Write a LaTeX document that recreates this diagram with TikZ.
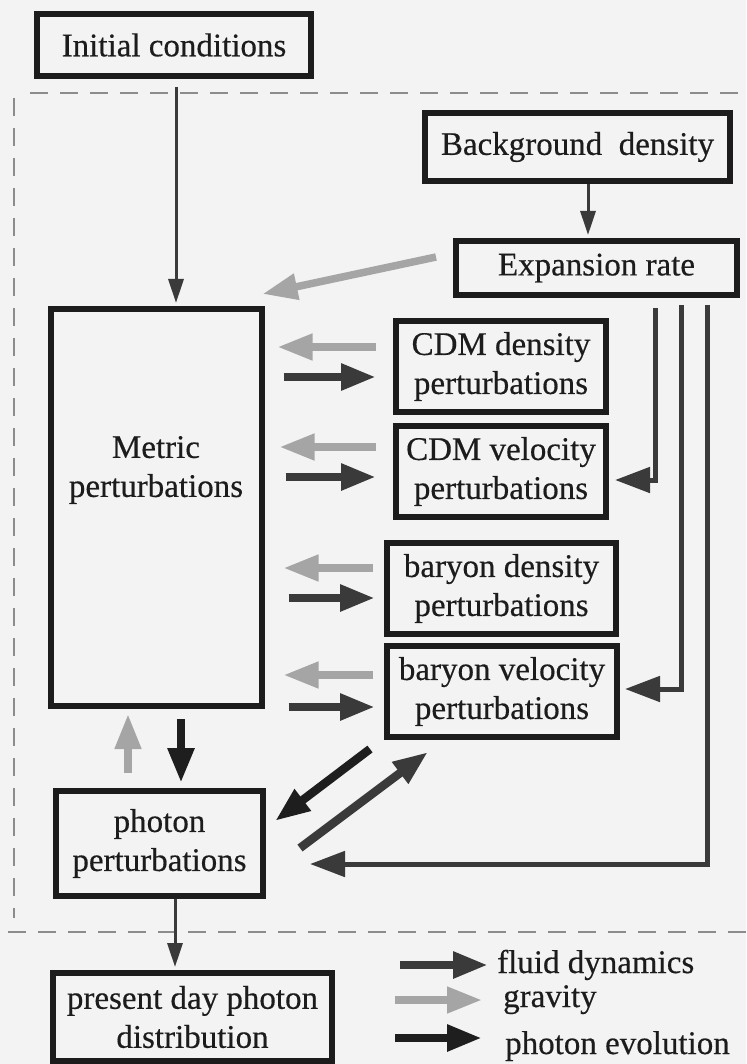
\documentclass[tikz,border=0pt]{standalone}
\usepackage{fontspec}
\setmainfont{Liberation Serif}[FakeBold=0.4]
\usetikzlibrary{arrows.meta,calc}
\definecolor{bgc}{RGB}{243,243,243}
\definecolor{fluidc}{RGB}{58,58,58}
\definecolor{gravc}{RGB}{165,165,165}
\definecolor{photc}{RGB}{30,30,30}
\definecolor{inkc}{RGB}{28,28,28}
\definecolor{dashc}{RGB}{140,140,140}
\begin{document}
\begin{tikzpicture}[x=1pt,y=-1pt,
  txt/.style={font=\fontsize{33}{39}\selectfont,text=inkc,inner sep=0pt},
  box/.style={txt,draw=inkc,line width=6pt,align=center},
  fluidarr/.style={draw=fluidc,line width=8.5pt,-{Triangle[length=35pt,width=25pt]}},
  gravarr/.style={draw=gravc,line width=7.5pt,-{Triangle[length=35pt,width=25pt]}},
  photarr/.style={draw=photc,line width=8.5pt,-{Triangle[length=35pt,width=25pt]}},
  exparr/.style={draw=fluidc,line width=5pt,-{Triangle[length=35pt,width=25pt]}},
  thinarr/.style={draw=fluidc,line width=3pt,-{Triangle[length=24pt,width=15pt]}},
  dashline/.style={draw=dashc,line width=1.5pt,dash pattern=on 18pt off 12pt}]
\useasboundingbox[fill=bgc] (0,0) rectangle (746,1064);

% dashed frame
\draw[dashline] (30,93) -- (746,93);
\draw[dashline] (14,98) -- (14,918);
\draw[dashline] (8,932) -- (746,932);

% boxes
\node[box,minimum width=274pt,minimum height=62pt] (init) at (174,45) {Initial conditions};
\node[box,minimum width=305pt,minimum height=68pt] (bg) at (577.5,147) {Background\ \ density};
\node[box,minimum width=281pt,minimum height=54pt] (exp) at (596.5,268) {Expansion rate};
\node[box,minimum width=211pt,minimum height=397pt] (metric) at (156,507.5) {};
\node[txt,align=center] (metrictxt) at (156,470) {Metric\\perturbations};
\node[box,minimum width=210pt,minimum height=91pt] (cdmd) at (501,366.5) {CDM density\\perturbations};
\node[box,minimum width=210pt,minimum height=91pt] (cdmv) at (501,471.5) {CDM velocity\\perturbations};
\node[box,minimum width=229pt,minimum height=91pt] (bard) at (501.5,588.5) {baryon density\\perturbations};
\node[box,minimum width=230pt,minimum height=91pt] (barv) at (502,691.5) {baryon velocity\\perturbations};
\node[box,minimum width=207pt,minimum height=105pt] (photon) at (159.5,843.5) {photon\\perturbations};
\node[box,minimum width=279pt,minimum height=88pt] (present) at (192.5,1017) {present day photon\\distribution};

% thin arrows
\draw[thinarr] ($(init.south)+(2,8)$) -- ($(init.south |- metric.north)+(2,-3)$);
\draw[thinarr] ($(bg.south)+(10.5,0)$) -- ($(exp.north)+(-8.5,-3)$);
\draw[thinarr] ($(photon.south)+(15.5,0)$) -- ($(present.north)+(-17.5,-3)$);

% gravity from expansion rate
\draw[gravarr] ($(exp.west)+(-17,-11)$) -- ($(metric.north east)+(-2,-12)$);

% metric <-> matter
\draw[gravarr] ($(cdmd.west)+(-17,-19.5)$) -- ($(metric.east |- cdmd.west)+(13,-19.5)$);
\draw[fluidarr] ($(metric.east |- cdmd.west)+(19,10.5)$) -- ($(cdmd.west)+(-17,10.5)$);
\draw[gravarr] ($(cdmv.west)+(-17,-24.5)$) -- ($(metric.east |- cdmv.west)+(15,-24.5)$);
\draw[fluidarr] ($(metric.east |- cdmv.west)+(21,5.5)$) -- ($(cdmv.west)+(-17,5.5)$);
\draw[gravarr] ($(bard.west)+(-11,-20.5)$) -- ($(metric.east |- bard.west)+(19,-20.5)$);
\draw[fluidarr] ($(metric.east |- bard.west)+(24,9.5)$) -- ($(bard.west)+(-9,9.5)$);
\draw[gravarr] ($(barv.west)+(-11,-16.5)$) -- ($(metric.east |- barv.west)+(19,-16.5)$);
\draw[fluidarr] ($(metric.east |- barv.west)+(24,15.5)$) -- ($(barv.west)+(-9,15.5)$);

% expansion rate lines
\draw[exparr] ($(exp.south)+(58.5,10)$) |- ($(cdmv.east)+(6,8.5)$);
\draw[exparr] ($(exp.south)+(84.5,7)$) |- ($(barv.east)+(5,-2.5)$);
\draw[exparr] ($(exp.south)+(110.5,7)$) |- ($(photon.east)+(44,20.5)$);

% metric <-> photon
\draw[photarr] ($(metric.south)+(25,10)$) -- ($(photon.north)+(21.5,-5)$);
\draw[gravarr] ($(photon.north)+(-31.5,-15)$) -- ($(metric.south)+(-28,5)$);

% baryon velocity <-> photon
\draw[photarr] ($(barv.south west)+(-14,9)$) -- ($(photon.north east)+(9,33)$);
\draw[fluidarr] ($(photon.east)+(34,4.5)$) -- ($(barv.south west)+(44,12)$);

% legend
\node[txt,anchor=base west] (lfluid) at (497,973) {fluid dynamics};
\node[txt,anchor=base west] (lgrav) at (503,1007) {gravity};
\node[txt,anchor=base west] (lphot) at (505,1054) {photon evolution};
\draw[fluidarr] ($(lfluid.base west)+(-97,-8)$) -- ($(lfluid.base west)+(-9,-8)$);
\draw[gravarr] ($(lgrav.base west)+(-108,-7)$) -- ($(lgrav.base west)+(-21,-7)$);
\draw[photarr] ($(lphot.base west)+(-110,-16)$) -- ($(lphot.base west)+(-23,-16)$);
\end{tikzpicture}
\end{document}
